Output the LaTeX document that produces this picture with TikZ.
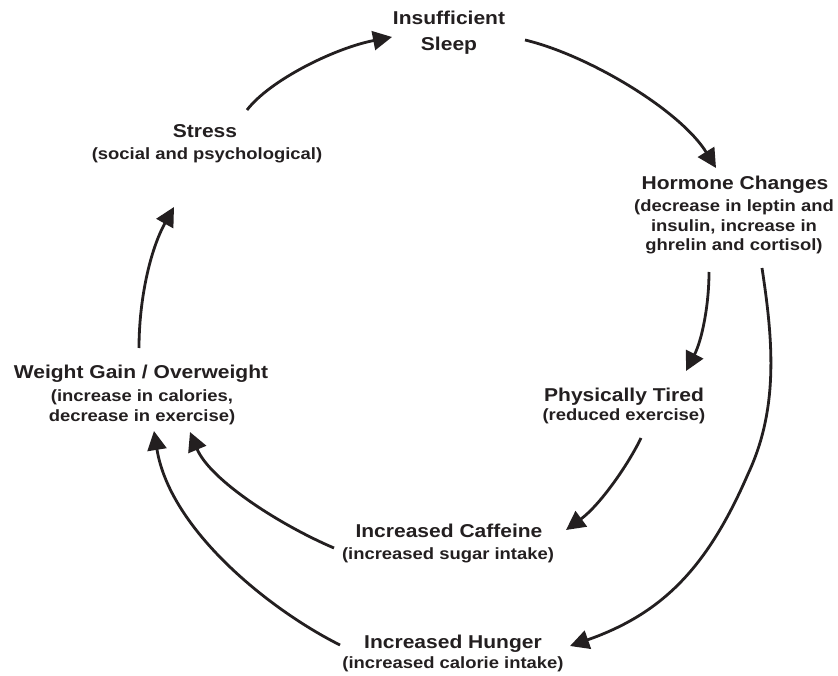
\documentclass[tikz,border=0pt]{standalone}
\usepackage{fontspec}
\setmainfont{Liberation Sans}[FakeStretch=1.13]
\usetikzlibrary{arrows.meta}
\definecolor{ink}{RGB}{35,31,32}
\begin{document}
\begin{tikzpicture}[x=1pt,y=-1pt,
  ttl/.style={inner sep=0pt,anchor=base,align=center,text=ink,
    font=\bfseries\fontsize{18.6}{22}\selectfont},
  sub/.style={inner sep=0pt,anchor=base,align=center,text=ink,
    font=\bfseries\fontsize{16.3}{19.8}\selectfont},
  conn/.style={draw=ink,line width=2.8pt,
    -{Triangle[length=19pt,width=19pt]}}]
\useasboundingbox (0,0) rectangle (838,676);

% boxes (multi-line nodes are placed by the baseline of their last line)
\node[ttl,font=\bfseries\fontsize{18.6}{26.7}\selectfont] (sleep) at (449,51) {Insufficient\\Sleep};
\node[ttl] (stress) at (205,138) {Stress};
\node[sub] (stresssub) at (207,160) {(social and psychological)};
\node[ttl] (hormone) at (735,190) {Hormone Changes};
\node[sub] (hormonesub) at (734,251) {(decrease in leptin and\\insulin, increase in\\ghrelin and cortisol)};
\node[ttl] (tired) at (624,401) {Physically Tired};
\node[sub] (tiredsub) at (624,420) {(reduced exercise)};
\node[ttl] (weight) at (141,378) {Weight Gain / Overweight};
\node[sub] (weightsub) at (142,421) {(increase in calories,\\decrease in exercise)};
\node[ttl] (caffeine) at (449,537) {Increased Caffeine};
\node[sub] (caffeinesub) at (448,559) {(increased sugar intake)};
\node[ttl] (hunger) at (453,648) {Increased Hunger};
\node[sub] (hungersub) at (453,668) {(increased calorie intake)};

% connector end points
\coordinate (s1) at (247,110);  \coordinate (e1) at (392,37);
\coordinate (s2) at (525,40);   \coordinate (e2) at (716,168);
\coordinate (s3) at (709,272);  \coordinate (e3) at (686,371);
\coordinate (s4) at (762,268);  \coordinate (m4) at (748,474); \coordinate (e4) at (570,646);
\coordinate (s5) at (641,438);  \coordinate (e5) at (566,530);
\coordinate (s6) at (334,548);  \coordinate (e6) at (190,432);
\coordinate (s7) at (340,645);  \coordinate (e7) at (154,431);
\coordinate (s8) at (139,348);  \coordinate (e8) at (174,207);

% connectors
\draw[conn] (s1) .. controls (270,80) and (335,48) .. (e1);
\draw[conn] (s2) .. controls (588,55) and (680,110) .. (e2);
\draw[conn] (s3) .. controls (709,305) and (702,340) .. (e3);
\draw[conn] (s4) .. controls (773,340) and (779,408) .. (m4)
               .. controls (708,566) and (664,613) .. (e4);
\draw[conn] (s5) .. controls (628,465) and (600,505) .. (e5);
\draw[conn] (s6) .. controls (280,525) and (210,480) .. (e6);
\draw[conn] (s7) .. controls (270,610) and (170,530) .. (e7);
\draw[conn] (s8) .. controls (139,300) and (150,250) .. (e8);
\end{tikzpicture}
\end{document}
